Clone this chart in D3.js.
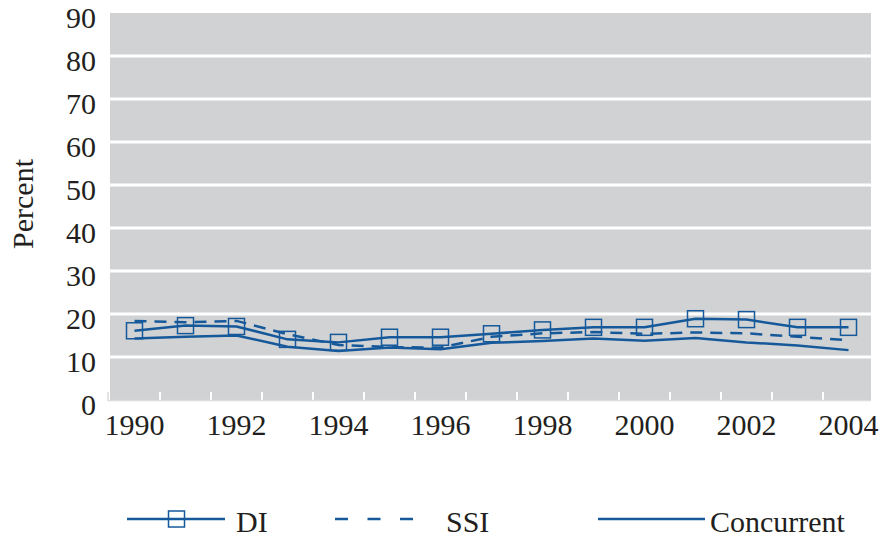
<!DOCTYPE html>
<html>
<head>
<meta charset="utf-8">
<script src="https://cdn.jsdelivr.net/npm/d3@7"></script>
<style>
  html, body { margin: 0; padding: 0; background: #ffffff; }
  svg { display: block; }
  text { font-family: "Liberation Serif", "Times New Roman", serif; fill: #231f20; }
</style>
</head>
<body>
<svg id="chart" width="882" height="537"></svg>
<script>
const years = ["1990","1991","1992","1993","1994","1995","1996","1997","1998","1999","2000","2001","2002","2003","2004"];
const xTickLabels = ["1990","1992","1994","1996","1998","2000","2002","2004"];
const yTicks = [0,10,20,30,40,50,60,70,80,90];
const diValues = [16.1,17.3,17.1,14.1,13.4,14.6,14.6,15.4,16.3,16.9,16.9,18.9,18.7,16.9,16.9];
const ssiValues = [18.4,18.1,18.4,15.3,12.8,12.3,12.2,14.7,15.5,15.8,15.4,15.7,15.5,14.7,13.9];
const concurrentValues = [14.3,14.7,15.0,12.4,11.4,12.2,11.8,13.3,13.7,14.3,13.8,14.4,13.4,12.7,11.6];
const seriesNames = ["DI","SSI","Concurrent"];

const blue = "#16599a";
const fs = 30;
const svg = d3.select("#chart");

const plot = {left: 110, right: 871, top: 13, bottom: 400};
const x = d3.scaleBand().domain(years).range([109, 874]);
const y = d3.scaleLinear().domain([0, 90]).range([400, 13]);
const cx = d => x(d) + x.bandwidth() / 2;

// background
svg.append("rect")
  .attr("x", plot.left).attr("y", plot.top)
  .attr("width", plot.right - plot.left).attr("height", plot.bottom - plot.top)
  .attr("fill", "#d1d2d4");

// gridlines
svg.append("g").selectAll("line")
  .data(yTicks.filter(t => t > 0 && t < 90))
  .join("line")
  .attr("x1", plot.left).attr("x2", plot.right)
  .attr("y1", d => y(d)).attr("y2", d => y(d))
  .attr("stroke", "#ffffff").attr("stroke-width", 3);

// x tick marks (white, inward) at band boundaries
svg.append("g").selectAll("line")
  .data(years.slice(1))
  .join("line")
  .attr("x1", d => x(d)).attr("x2", d => x(d))
  .attr("y1", 392).attr("y2", 400)
  .attr("stroke", "#ffffff").attr("stroke-width", 2);

// bottom axis line
svg.append("path")
  .attr("d", `M108,392V400.5H${plot.right}`)
  .attr("fill", "none").attr("stroke", "#dcdcdc").attr("stroke-width", 1.5);

// y labels
svg.append("g").selectAll("text")
  .data(yTicks)
  .join("text")
  .attr("x", 96).attr("y", d => y(d) + 4)
  .attr("dy", "0.35em")
  .attr("text-anchor", "end")
  .attr("font-size", fs)
  .text(d => d);

// x labels
svg.append("g").selectAll("text")
  .data(xTickLabels)
  .join("text")
  .attr("x", d => cx(d)).attr("y", 435)
  .attr("text-anchor", "middle")
  .attr("font-size", fs)
  .text(d => d);

// y title
svg.append("text")
  .attr("transform", "translate(33,204) rotate(-90)")
  .attr("text-anchor", "middle")
  .attr("font-size", fs)
  .text("Percent");

const line = d3.line().x((d, i) => cx(years[i])).y(d => y(d));

// Concurrent
svg.append("path").datum(concurrentValues)
  .attr("d", line).attr("fill", "none")
  .attr("stroke", blue).attr("stroke-width", 2.5).attr("stroke-linejoin", "round");

// SSI
svg.append("path").datum(ssiValues)
  .attr("d", line).attr("fill", "none")
  .attr("stroke", blue).attr("stroke-width", 2.5)
  .attr("stroke-dasharray", "12,8");

// DI
svg.append("path").datum(diValues)
  .attr("d", line).attr("fill", "none")
  .attr("stroke", blue).attr("stroke-width", 2.5).attr("stroke-linejoin", "round");

const ms = 16;
svg.append("g").selectAll("rect")
  .data(diValues)
  .join("rect")
  .attr("x", (d, i) => cx(years[i]) - ms / 2)
  .attr("y", d => y(d) - ms / 2)
  .attr("width", ms).attr("height", ms)
  .attr("fill", "none").attr("stroke", blue).attr("stroke-width", 1.5);

// legend
const lg = svg.append("g");
const ly = 519;
lg.append("line").attr("x1", 127).attr("x2", 225).attr("y1", ly).attr("y2", ly)
  .attr("stroke", blue).attr("stroke-width", 2.5);
lg.append("rect").attr("x", 176.5 - ms / 2).attr("y", ly - ms / 2)
  .attr("width", ms).attr("height", ms)
  .attr("fill", "none").attr("stroke", blue).attr("stroke-width", 1.5);
lg.append("text").attr("x", 236).attr("y", 532).attr("font-size", fs).text(seriesNames[0]);

lg.append("line").attr("x1", 335).attr("x2", 413).attr("y1", ly).attr("y2", ly)
  .attr("stroke", blue).attr("stroke-width", 2.5).attr("stroke-dasharray", "13,19.5");
lg.append("text").attr("x", 446).attr("y", 532).attr("font-size", fs).text(seriesNames[1]);

lg.append("line").attr("x1", 598).attr("x2", 705).attr("y1", ly).attr("y2", ly)
  .attr("stroke", blue).attr("stroke-width", 2.5);
lg.append("text").attr("x", 710).attr("y", 532).attr("font-size", fs).text(seriesNames[2]);
</script>
</body>
</html>
